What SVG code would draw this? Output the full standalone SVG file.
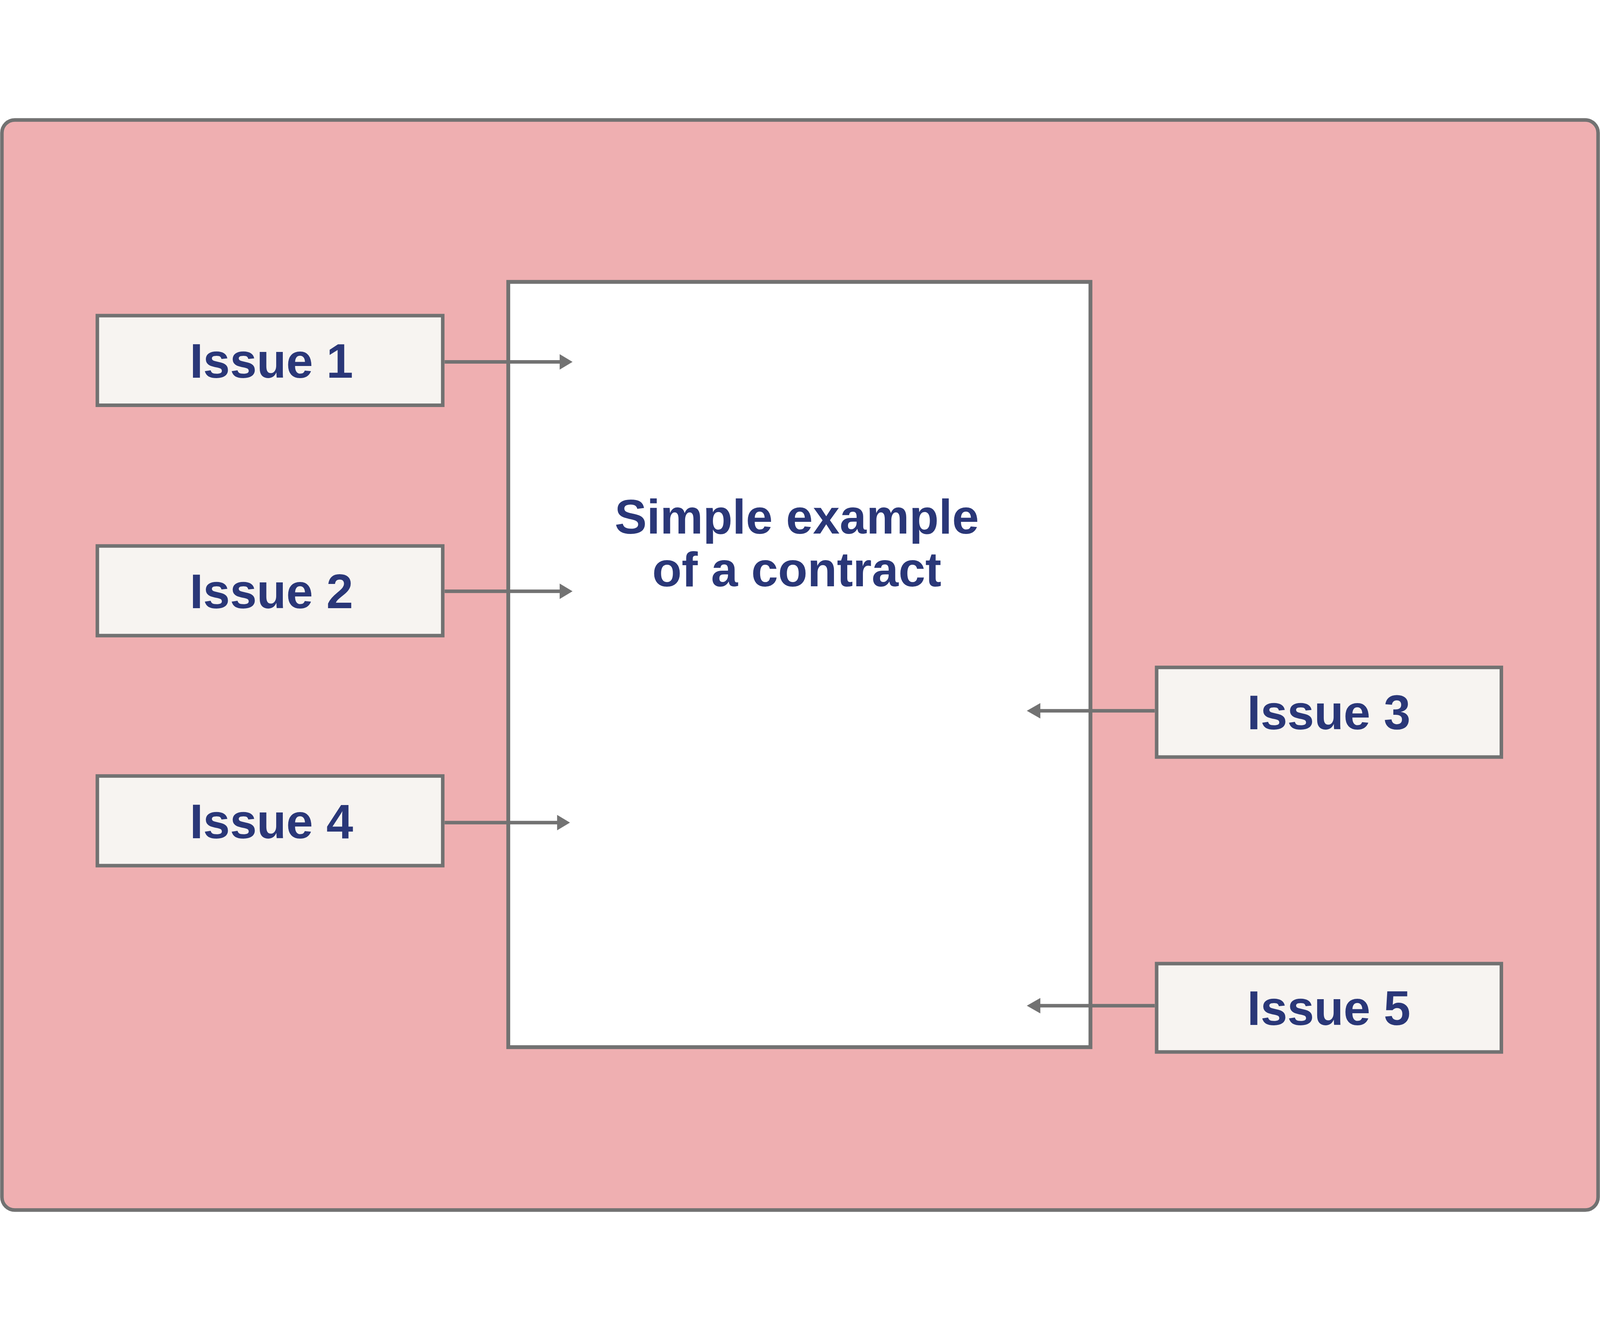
<svg xmlns="http://www.w3.org/2000/svg" width="4980" height="3405" viewBox="0 0 4980 3405">
  <style>
    svg { max-width: 100vw; max-height: 100vh; }
    .box { fill: #F7F4F1; stroke: #727272; stroke-width: 11; }
    .lbl { font-family: "Liberation Sans", Arial, Helvetica, sans-serif; font-weight: bold; font-size: 150px; fill: #2A3778; text-anchor: middle; }
    .conn line { stroke: #727272; stroke-width: 11; }
    .conn polygon { fill: #727272; }
  </style>
  <g id="background">
    <rect x="6" y="6" width="4968" height="3393" rx="40" ry="40" fill="#EFAFB1" stroke="#727272" stroke-width="11"/>
  </g>
  <g id="contract">
    <rect x="1582" y="510" width="1812" height="2382" fill="#FFFFFF" stroke="#727272" stroke-width="12"/>
    <text class="lbl" x="2480" y="1293">Simple example</text>
    <text class="lbl" x="2480" y="1458">of a contract</text>
  </g>
  <g id="connectors" class="conn">
    <line x1="1384" y1="759" x2="1745" y2="759"/>
    <polygon points="1782,759 1742,735 1742,783"/>
    <line x1="1384" y1="1473" x2="1745" y2="1473"/>
    <polygon points="1782,1473 1742,1449 1742,1497"/>
    <line x1="1384" y1="2193" x2="1737" y2="2193"/>
    <polygon points="1774,2193 1734,2169 1734,2217"/>
    <line x1="3594" y1="1845" x2="3234" y2="1845"/>
    <polygon points="3196,1845 3238,1821 3238,1869"/>
    <line x1="3594" y1="2763" x2="3234" y2="2763"/>
    <polygon points="3196,2763 3238,2739 3238,2787"/>
  </g>
  <g id="issue1">
    <rect class="box" x="303" y="615" width="1075" height="279"/>
    <text class="lbl" x="845" y="808">Issue 1</text>
  </g>
  <g id="issue2">
    <rect class="box" x="303" y="1332" width="1075" height="279"/>
    <text class="lbl" x="845" y="1525">Issue 2</text>
  </g>
  <g id="issue4">
    <rect class="box" x="303" y="2048" width="1075" height="279"/>
    <text class="lbl" x="845" y="2242">Issue 4</text>
  </g>
  <g id="issue3">
    <rect class="box" x="3600" y="1710" width="1073" height="279"/>
    <text class="lbl" x="4136" y="1902">Issue 3</text>
  </g>
  <g id="issue5">
    <rect class="box" x="3600" y="2632" width="1073" height="275"/>
    <text class="lbl" x="4136" y="2823">Issue 5</text>
  </g>
</svg>
